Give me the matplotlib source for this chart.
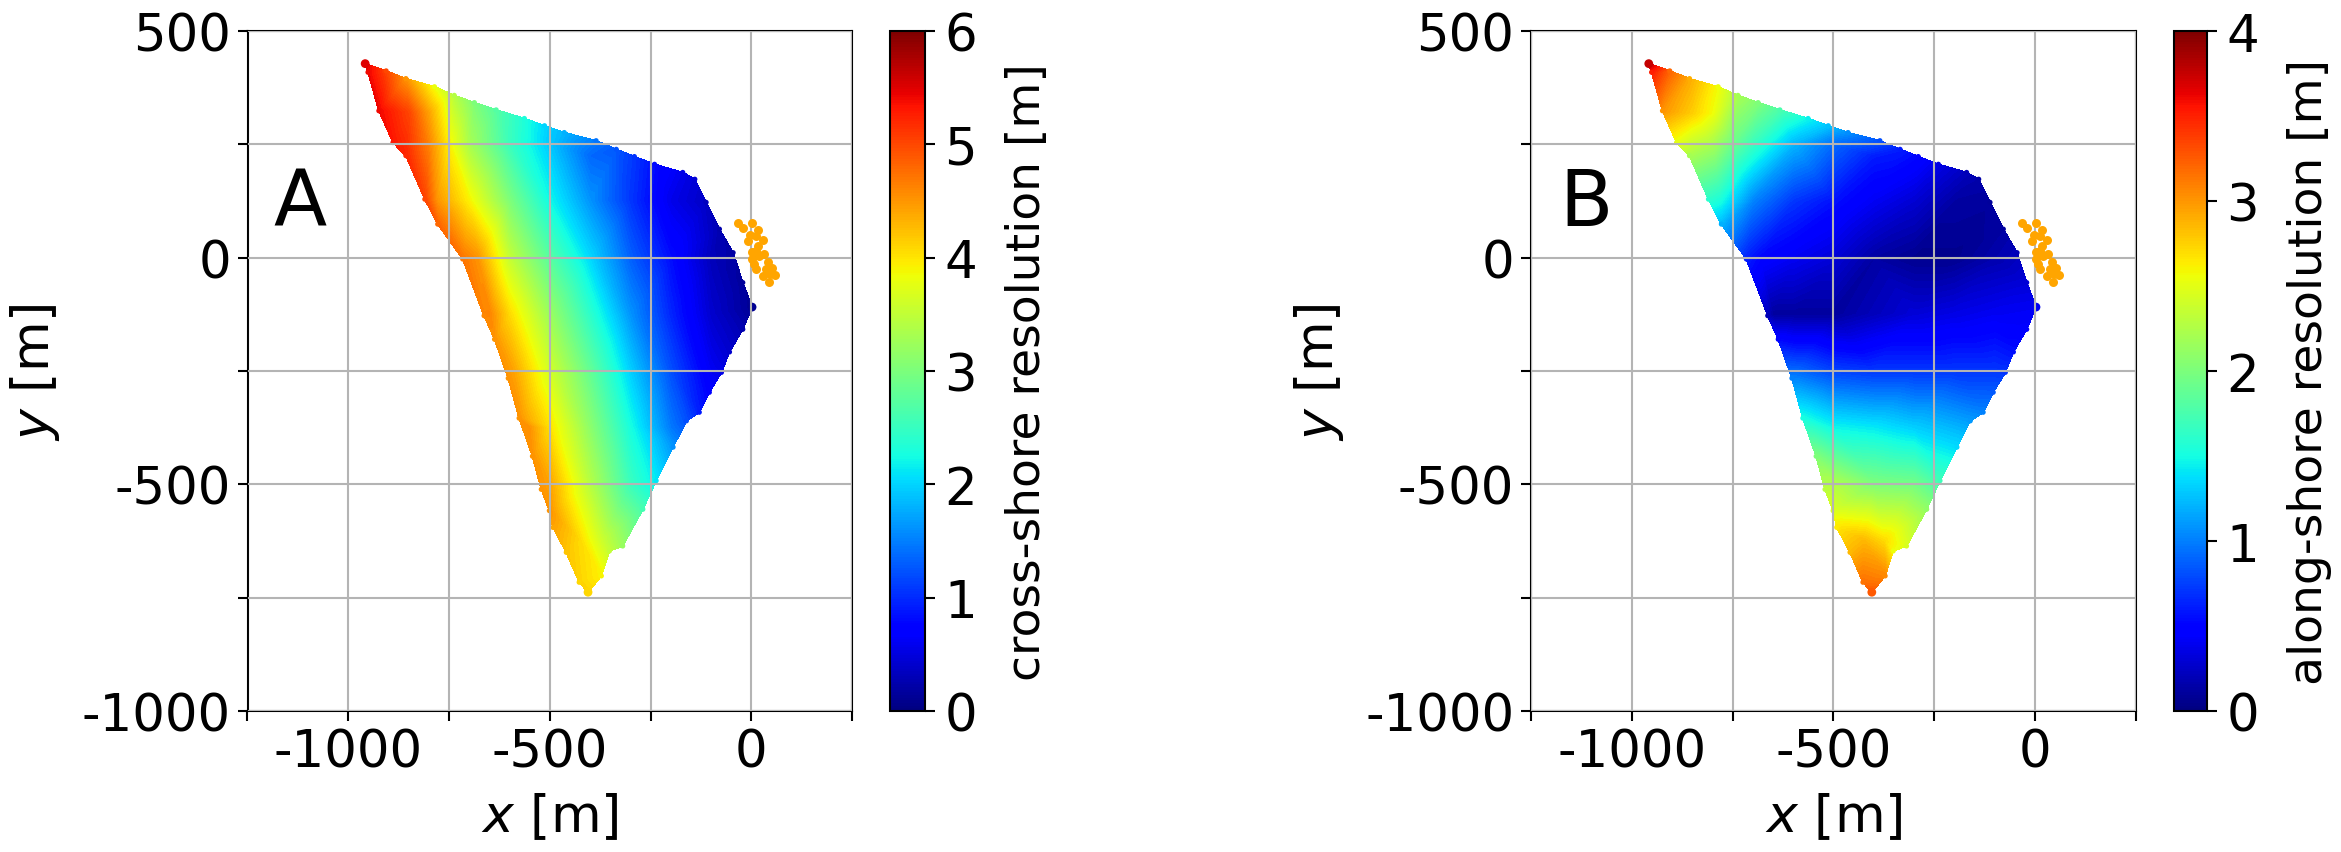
import numpy as np
import matplotlib
matplotlib.use("Agg")
import matplotlib.pyplot as plt
import matplotlib.tri as mtri
from matplotlib.cm import ScalarMappable
from matplotlib.colors import Normalize
from matplotlib.path import Path

edge_x = [-958, -906, -857, -786, -737, -687, -633, -563, -513, -464, -385, -335, -290,
          -240, -170, -140, -112, -79, -45, -21, 2, -21, -54, -74, -104, -129, -161,
          -194, -236, -269, -319, -352, -372, -405, -427, -459, -492, -501, -521, -543,
          -576, -603, -637, -663, -716, -778, -810, -857, -889, -924, -951]
edge_y = [428, 412, 395, 377, 358, 342, 326, 307, 291, 276, 258, 239, 223,
          206, 188, 173, 122, 63, 11, -55, -109, -158, -208, -253, -297, -341, -360,
          -418, -492, -555, -636, -647, -702, -738, -716, -650, -595, -558, -511, -438,
          -354, -266, -180, -128, -3, 74, 129, 225, 254, 324, 409]
edge_cross = [5.5, 5.0, 4.5, 3.8, 3.4, 3.0, 2.7, 2.3, 2.0, 1.8, 1.45, 1.25, 1.05,
              0.8, 0.55, 0.45, 0.35, 0.25, 0.2, 0.15, 0.1, 0.25, 0.4, 0.55, 0.7, 0.9, 1.2,
              1.6, 2.1, 2.6, 3.2, 3.5, 3.9, 4.1, 4.1, 4.2, 4.4, 4.5, 4.5, 4.5,
              4.5, 4.5, 4.5, 4.6, 4.7, 4.8, 5.0, 5.2, 5.3, 5.4, 5.4]
edge_along = [3.75, 3.2, 2.9, 2.55, 2.2, 2.0, 1.75, 1.45, 1.25, 1.05, 0.8, 0.6, 0.5,
              0.35, 0.2, 0.15, 0.1, 0.12, 0.2, 0.3, 0.4, 0.45, 0.55, 0.7, 0.85, 1.0, 1.1,
              1.35, 1.7, 2.1, 2.45, 2.55, 3.05, 3.25, 3.15, 2.85, 2.65, 2.45, 2.3, 2.0,
              1.5, 1.0, 0.5, 0.2, 0.6, 1.2, 1.6, 2.2, 2.5, 3.0, 3.5]

# values read inside the area
inner_x = [-850, -800,
           -800, -750, -700, -600, -500, -400,
           -780, -700, -600, -500, -400, -300, -200,
           -680, -600, -500, -400, -300, -200, -100,
           -650, -600, -500, -400, -300, -200, -100,
           -590, -500, -400, -300, -200, -100,
           -550, -500, -400, -300, -200,
           -500, -400, -300,
           -425, -375]
inner_y = [320, 320,
           250, 250, 250, 250, 250, 225,
           125, 125, 125, 125, 125, 125, 125,
           0, 0, 0, 0, 0, 0, 0,
           -125, -125, -125, -125, -125, -125, -125,
           -250, -250, -250, -250, -250, -250,
           -375, -375, -375, -375, -375,
           -500, -500, -500,
           -625, -625]
inner_cross = [5.0, 4.4,
               4.6, 3.9, 3.3, 2.5, 1.9, 1.35,
               4.5, 3.9, 3.0, 2.2, 1.6, 1.05, 0.55,
               4.5, 3.5, 2.7, 2.0, 1.3, 0.8, 0.3,
               4.6, 4.05, 3.2, 2.4, 1.6, 0.95, 0.4,
               4.4, 3.6, 2.8, 1.95, 1.2, 0.6,
               4.5, 4.0, 3.1, 2.25, 1.45,
               4.4, 3.4, 2.5,
               4.05, 3.6]
inner_along = [2.75, 2.55,
               2.2, 1.9, 1.65, 1.2, 0.9, 0.6,
               1.5, 1.0, 0.7, 0.55, 0.4, 0.28, 0.12,
               0.5, 0.4, 0.3, 0.12, 0.05, 0.05, 0.15,
               0.1, 0.1, 0.1, 0.2, 0.3, 0.35, 0.4,
               0.9, 0.75, 0.7, 0.7, 0.7, 0.7,
               1.6, 1.45, 1.4, 1.3, 1.2,
               2.25, 2.0, 1.95,
               2.85, 2.7]

# the separate small patch, same colour in both panels
patch_x = [-32, 1, -21, 17, -4, 11, -7, 29, 17, 2, 12, 31, 2, 19, 41, 8, 12, 52, 37, 29, 60, 46, 43]
patch_y = [76, 77, 65, 62, 49, 48, 37, 39, 26, 12, 15, 9, -2, 4, -10, -15, -24, -23, -26, -40, -39, -35, -53]

x_ticks = [-1250, -1000, -750, -500, -250, 0, 250]
x_labels = ['', '-1000', '', '-500', '', '0', '']
y_ticks = [-1000, -750, -500, -250, 0, 250, 500]
y_labels = ['-1000', '', '-500', '', '0', '', '500']

W, H = 2341, 853
plt.rcParams['font.size'] = 37
plt.rcParams['axes.linewidth'] = 1.5
fig = plt.figure(figsize=(W / 100, H / 100), dpi=100)


def px_box(left, right, top=32, bottom=712):
    return [left / W, 1 - bottom / H, (right - left) / W, (bottom - top) / H]


def draw_panel(left, right, cleft, cright, edge_val, inner_val, vmax, letter, letter_x, cb_label):
    ax = fig.add_axes(px_box(left, right))
    x = np.array(edge_x + inner_x, dtype=float)
    y = np.array(edge_y + inner_y, dtype=float)
    v = np.array(edge_val + inner_val, dtype=float)

    tri = mtri.Triangulation(x, y)
    # Delaunay also fills the concave bits of the outline, drop those
    outline = Path(np.column_stack([edge_x, edge_y]))
    centers = np.column_stack([x[tri.triangles].mean(axis=1), y[tri.triangles].mean(axis=1)])
    tri.set_mask(~outline.contains_points(centers))

    cs = ax.tricontourf(tri, v, levels=np.linspace(0, vmax, 129), cmap='jet', vmin=0, vmax=vmax)
    cs.set_edgecolor('face')
    cs.set_linewidth(0.4)

    # only the corner dots stick out, the rest just roughens the edge
    sizes = np.full(len(edge_x), 14.0)
    sizes[[0, 20, 33]] = 40
    ax.scatter(edge_x, edge_y, c=edge_val, s=sizes, cmap='jet', vmin=0, vmax=vmax, linewidths=0)
    ax.scatter(patch_x, patch_y, c='orange', s=42, linewidths=0, zorder=3)

    ax.set_xlim(-1250, 250)
    ax.set_ylim(-1000, 500)
    ax.set_xticks(x_ticks)
    ax.set_xticklabels(x_labels)
    ax.set_yticks(y_ticks)
    ax.set_yticklabels(y_labels)
    ax.tick_params(length=7, width=1.5, pad=5)
    ax.grid(True, color='#b4b4b4', lw=1.5)
    ax.set_axisbelow(False)
    ax.set_xlabel('$x$ [m]', fontsize=37.5, labelpad=10)
    ax.set_ylabel('$y$ [m]', fontsize=37.5, labelpad=14)
    ax.text(letter_x, 72, letter, fontsize=56, ha='left', va='baseline')

    cax = fig.add_axes(px_box(cleft, cright))
    sm = ScalarMappable(Normalize(0, vmax), cmap='jet')
    cb = fig.colorbar(sm, cax=cax)
    cb.set_ticks(range(0, vmax + 1))
    cb.ax.tick_params(length=7, width=1.5, pad=7)
    cb.set_label(cb_label, fontsize=34, labelpad=20)


draw_panel(247.5, 852, 890, 925, edge_cross, inner_cross, 6, 'A', -1185, 'cross-shore resolution [m]')
draw_panel(1531, 2136, 2174, 2207, edge_along, inner_along, 4, 'B', -1180, 'along-shore resolution [m]')

fig.savefig('out.png', dpi=100)
